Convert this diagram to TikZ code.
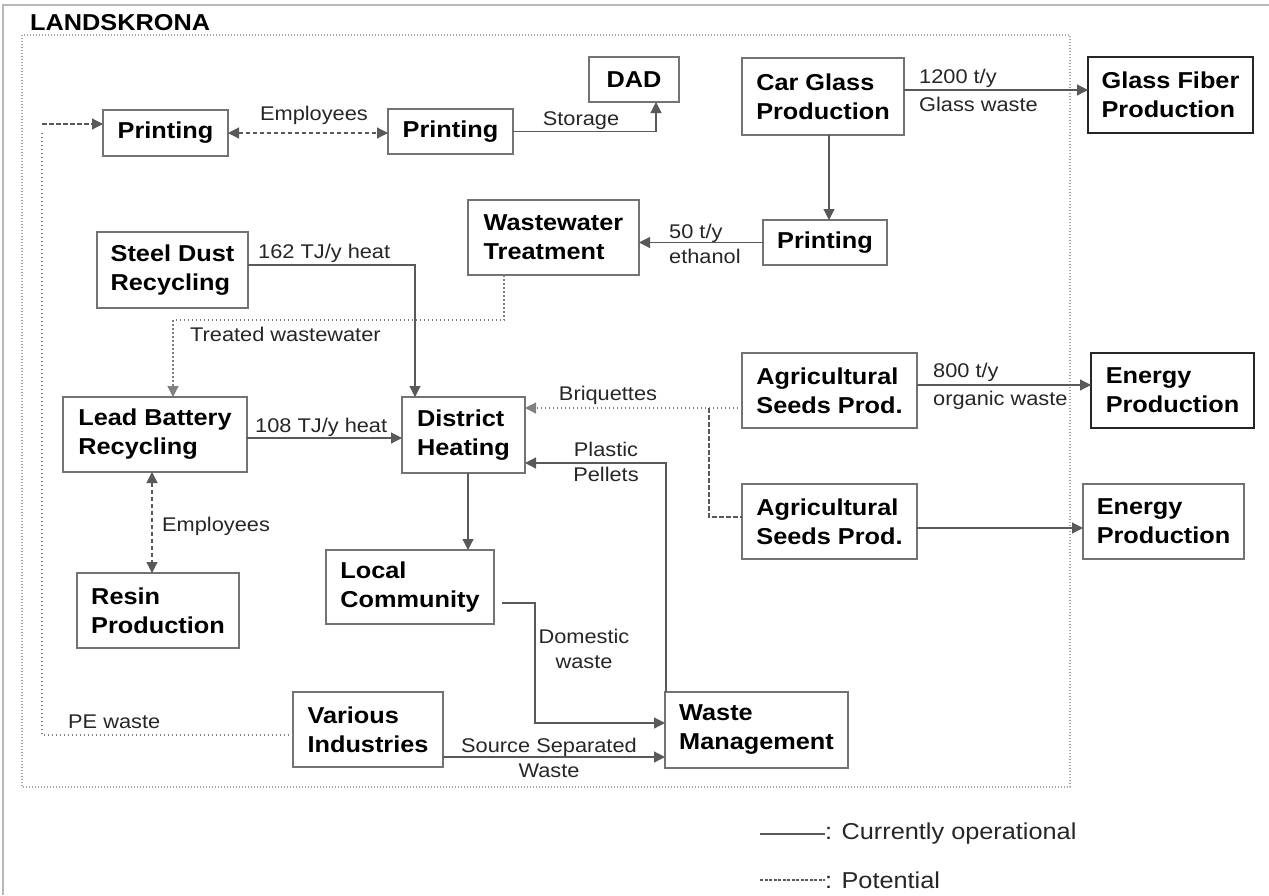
\documentclass[tikz,border=0pt]{standalone}
\usepackage{fontspec}
\setmainfont{Liberation Sans}[FakeStretch=1.1]
\usetikzlibrary{arrows.meta}
\begin{document}
\begin{tikzpicture}[x=1pt,y=-1pt,
 box/.style={draw=black!55, line width=1.3pt, inner sep=0pt, outer sep=0pt, align=left,
   font=\bfseries\fontsize{23}{29}\selectfont, text=black},
 heavybox/.style={box, draw=black!85, line width=2pt},
 plain/.style={draw=black!65, line width=1.2pt},
 pot/.style={draw=black!65, line width=1.2pt, dash pattern=on 4.5pt off 2.5pt},
 dots/.style={draw=black!50, line width=1.3pt, dash pattern=on 1.5pt off 2.5pt},
 lbl/.style={inner sep=0pt, font=\fontsize{19.8}{25}\selectfont, text=black!85},
 lgd/.style={inner sep=0pt, font=\fontsize{23}{28}\selectfont, text=black!85},
 tip/.style={-{Triangle[length=11pt,width=11pt]}},
 tips/.style={{Triangle[length=11pt,width=11pt]}-{Triangle[length=11pt,width=11pt]}}]
\useasboundingbox (0,0) rectangle (1269,895);
% outer frame and region
\draw[black!28, line width=2pt] (3,895) -- (3,5) -- (1269,5);
\draw[black!35, line width=1.2pt, dash pattern=on 1pt off 2pt] (22,35) rectangle (1070,787);
\node[anchor=west, inner sep=0pt, font=\bfseries\fontsize{23}{29}\selectfont, text=black] (title) at (30,23) {LANDSKRONA};
% boxes
\node[box, minimum width=125, minimum height=46] (pr1) at (165.5,133) {Printing};
\node[box, minimum width=125, minimum height=45] (pr2) at (450.5,131.5) {Printing};
\node[box, minimum width=90, minimum height=45] (dad) at (634,79.5) {DAD};
\node[box, minimum width=162, minimum height=77] (car) at (823,96.5) {Car Glass\\Production};
\node[heavybox, minimum width=165, minimum height=76] (gf) at (1170.5,95) {Glass Fiber\\Production};
\node[box, minimum width=171, minimum height=75] (ww) at (553.5,237.5) {Wastewater\\Treatment};
\node[box, minimum width=124, minimum height=45] (pr3) at (825,242.5) {Printing};
\node[box, minimum width=151, minimum height=76] (steel) at (172.5,270) {Steel Dust\\Recycling};
\node[box, minimum width=184, minimum height=75] (lead) at (155,434.5) {Lead Battery\\Recycling};
\node[box, minimum width=123, minimum height=76] (dh) at (463.5,435) {District\\Heating};
\node[box, minimum width=175, minimum height=75] (agri1) at (829.5,390.5) {Agricultural\\Seeds Prod.};
\node[heavybox, minimum width=163, minimum height=75] (en1) at (1172.5,390.5) {Energy\\Production};
\node[box, minimum width=175, minimum height=75] (agri2) at (829.5,521.5) {Agricultural\\Seeds Prod.};
\node[box, minimum width=161, minimum height=75] (en2) at (1163.5,521.5) {Energy\\Production};
\node[box, minimum width=162, minimum height=75] (resin) at (158,610.5) {Resin\\Production};
\node[box, minimum width=168, minimum height=74] (local) at (410,587) {Local\\Community};
\node[box, minimum width=150, minimum height=75] (various) at (368,729.5) {Various\\Industries};
\node[box, minimum width=183, minimum height=76] (wm) at (756.5,730) {Waste\\Management};
% connectors
\draw[pot,tips] (pr1.east) -- (pr1.east -| pr2.west);
\draw[plain,tip] (pr2.east) -| ([xshift=22]dad.south);
\draw[plain,tip] ([xshift=6]car.south) -- ([xshift=6]car.south |- pr3.north);
\draw[plain,tip] ([yshift=6.5]car.east) -- ([yshift=6.5]car.east -| gf.west);
\draw[plain,tip] (pr3.west) -- (pr3.west -| ww.east);
\draw[plain,tip] ([yshift=5]steel.east) -| ([xshift=-48.5]dh.north);
\draw[dots,tip] ([xshift=-49.5]ww.south) -- ++(0,45) -| ([xshift=18]lead.north);
\draw[plain,tip] ([yshift=-3.5]lead.east) -- ([yshift=-3.5]lead.east -| dh.west);
\draw[plain,tip] ([xshift=4.5]dh.south) -- ([xshift=4.5]dh.south |- local.north);
\draw[dots,tip] ([yshift=-17.5]agri1.west) -- ([yshift=-17.5]agri1.west -| dh.east);
\coordinate (br) at (709,408);
\draw[pot] (br) |- ([yshift=4.5]agri2.west);
\draw[plain,tip] ([xshift=1]wm.north west) |- ([yshift=-28]dh.east);
\draw[plain,tip] ([yshift=5.5]agri1.east) -- ([yshift=5.5]agri1.east -| en1.west);
\draw[plain,tip] ([yshift=-6.5]agri2.east) -- ([yshift=-6.5]agri2.east -| en2.west);
\draw[plain,tip] ([xshift=8,yshift=-16]local.east) -- ++(33,0) |- ([yshift=7]wm.west);
\draw[plain,tip] ([yshift=-27.5]various.east) -- ([yshift=-27.5]various.east -| wm.west);
\coordinate (pec) at (42,735);
\draw[dots] ([yshift=-5.5]various.west) -- (pec) -- (pec |- pr1.west);
\draw[pot,tip] ([yshift=9]pr1.west -| pec) -- ([yshift=9]pr1.west);
\draw[pot,tips] ([xshift=-3]lead.south) -- ([xshift=-3]lead.south |- resin.north);
% labels
\node[lbl] (lemp1) at (314,115) {Employees};
\node[lbl] (lsto) at (581,121) {Storage};
\node[lbl, anchor=west, align=left, font=\fontsize{19.8}{28}\selectfont] (lgw) at (919,90) {1200 t/y\\Glass waste};
\node[lbl, anchor=west, align=left] (leth) at (669,244) {50 t/y\\ethanol};
\node[lbl, anchor=west] (l162) at (258,253) {162 TJ/y heat};
\node[lbl, anchor=west] (ltw) at (190,334) {Treated wastewater};
\node[lbl, anchor=west] (l108) at (255,427) {108 TJ/y heat};
\node[lbl] (lbri) at (608,395) {Briquettes};
\node[lbl, align=center] (lpp) at (606,462) {Plastic\\Pellets};
\node[lbl, anchor=west, align=left, font=\fontsize{19.8}{28}\selectfont] (lorg) at (933,386) {800 t/y\\organic waste};
\node[lbl, anchor=west] (lemp2) at (162,526) {Employees};
\node[lbl, align=center] (ldom) at (584,649) {Domestic\\waste};
\node[lbl, align=center] (lssw) at (549,758) {Source Separated\\Waste};
\node[lbl, anchor=west] (lpe) at (68,722) {PE waste};
% legend
\coordinate (lga) at (760,834);
\node[lgd, anchor=west] (lg1) at (825,834) {: Currently operational};
\draw[plain] (lga) -- (lg1.west);
\coordinate (lgb) at (760,880);
\node[lgd, anchor=west] (lg2) at (825,880) {: Potential};
\draw[pot, dash pattern=on 3pt off 1.5pt] (lgb) -- (lg2.west);
\end{tikzpicture}
\end{document}
